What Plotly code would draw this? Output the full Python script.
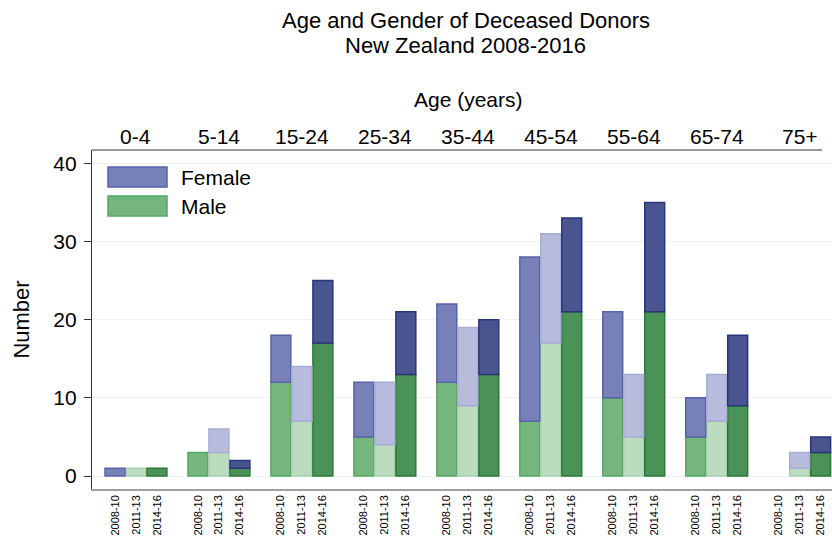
import plotly.graph_objects as go

age_groups = ["0-4", "5-14", "15-24", "25-34", "35-44", "45-54", "55-64", "65-74", "75+"]
periods = ["2008-10", "2011-13", "2014-16"]

male = {
    "2008-10": [0, 3, 12, 5, 12, 7, 10, 5, 0],
    "2011-13": [1, 3, 7, 4, 9, 17, 5, 7, 1],
    "2014-16": [1, 1, 17, 13, 13, 21, 21, 9, 3],
}
female = {
    "2008-10": [1, 0, 6, 7, 10, 21, 11, 5, 0],
    "2011-13": [0, 3, 7, 8, 10, 14, 8, 6, 2],
    "2014-16": [0, 1, 8, 8, 7, 12, 14, 9, 2],
}

offsets = [-0.253, 0.0, 0.253]
male_fill = ["#74b67e", "#bcdcc0", "#4b9258"]
male_line = ["#56a862", "#a9d1af", "#2a7a35"]
fem_fill = ["#7880b8", "#b8bcdc", "#4a5590"]
fem_line = ["#5862aa", "#a8acd4", "#28357a"]

font = "Liberation Sans, Arial, sans-serif"

fig = go.Figure()
tickvals, ticktext = [], []
for p, per in enumerate(periods):
    xs = [i + offsets[p] for i in range(len(age_groups))]
    tickvals += xs
    ticktext += [per] * len(xs)
    fig.add_trace(go.Bar(
        x=xs, y=[v if v else None for v in male[per]], width=0.24,
        marker=dict(color=male_fill[p], line=dict(color=male_line[p], width=1.5)),
        name="Male " + per, showlegend=False))
for p, per in enumerate(periods):
    xs = [i + offsets[p] for i in range(len(age_groups))]
    fig.add_trace(go.Bar(
        x=xs, y=[v if v else None for v in female[per]], width=0.24,
        base=[m for m in male[per]],
        marker=dict(color=fem_fill[p], line=dict(color=fem_line[p], width=1.5)),
        name="Female " + per, showlegend=False))

annotations = []
# title (two lines, tight spacing)
annotations.append(dict(x=0.505, y=1, xref="paper", yref="paper",
                        text="Age and Gender of Deceased Donors", showarrow=False,
                        yanchor="middle", yshift=129.5, font=dict(size=22, color="black")))
annotations.append(dict(x=0.505, y=1, xref="paper", yref="paper",
                        text="New Zealand 2008-2016", showarrow=False,
                        yanchor="middle", yshift=104.5, font=dict(size=22, color="black")))
# top age labels
for i, g in enumerate(age_groups):
    annotations.append(dict(x=i, y=1, xref="x", yref="paper", text=g, showarrow=False,
                            yanchor="bottom", yshift=0, font=dict(size=21, color="black")))
annotations.append(dict(x=0.509, y=1, xref="paper", yref="paper", text="Age (years)", showarrow=False,
                        yanchor="bottom", yshift=37, font=dict(size=21, color="black")))

# custom legend
W, H = 740.0, 339.0
def px(x): return x / W
def py(y): return 1 - y / H
shapes = [dict(type="rect", xref="paper", yref="paper", layer="below",
               x0=px(3), x1=px(170), y0=py(70), y1=py(4), fillcolor="white", line=dict(width=0)),
          dict(type="line", xref="paper", yref="paper", x0=0, x1=px(730), y0=1, y1=1,
               line=dict(color="#333333", width=1.2))]
leg = [("Female", fem_fill[0], fem_line[0], 17), ("Male", male_fill[0], male_line[0], 46)]
for name, fc, lc, top in leg:
    shapes.append(dict(type="rect", xref="paper", yref="paper", x0=px(16), x1=px(75),
                       y0=py(top + 20), y1=py(top), fillcolor=fc, line=dict(color=lc, width=1.5)))
    annotations.append(dict(x=px(87), y=py(top + 10), xref="paper", yref="paper", text=name,
                            showarrow=False, xanchor="left", yanchor="middle",
                            font=dict(size=21, color="black")))

fig.update_layout(
    width=832, height=538,
    margin=dict(l=92, r=0, t=150, b=49),
    barmode="overlay",
    plot_bgcolor="white", paper_bgcolor="white",
    font=dict(family=font, color="black"),
    showlegend=False,
    xaxis=dict(range=[-0.53, 8.39], tickvals=tickvals, ticktext=ticktext, tickangle=-90,
               tickfont=dict(size=11), showgrid=False, zeroline=False, showline=True,
               linecolor="#a0a0a0", linewidth=1.5, ticks=""),
    yaxis=dict(range=[-1.66, 41.7], tickvals=[0, 10, 20, 30, 40], showgrid=True,
               gridcolor="#eef2f2", gridwidth=1, zeroline=False, showline=True,
               linecolor="#333333", linewidth=1.2, ticks="outside", ticklen=7,
               tickcolor="#333333", tickfont=dict(size=21), ticklabelstandoff=3,
               title=dict(text="Number", font=dict(size=22), standoff=17)),
    annotations=annotations, shapes=shapes,
)

fig.write_html("out.html", config={"displayModeBar": False},
               post_script="document.body.style.margin='0';document.body.style.overflow='hidden';")
